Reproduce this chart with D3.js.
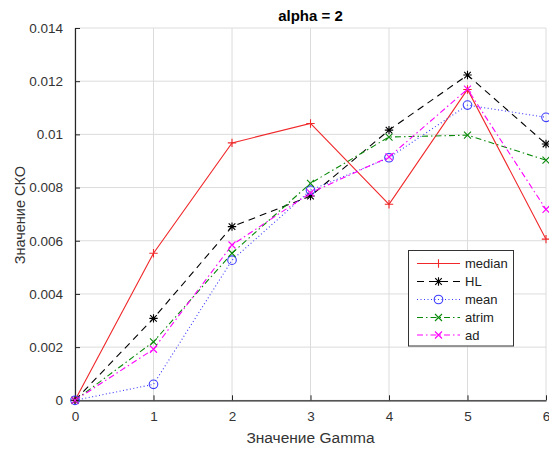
<!DOCTYPE html>
<html><head><meta charset="utf-8">
<script src="https://cdn.jsdelivr.net/npm/d3@7"></script>
<style>body{margin:0;background:#fff}svg{display:block}text{font-family:"Liberation Sans",Arial,sans-serif}</style>
</head><body><svg id="c" width="549" height="449"></svg>
<script>
const gammaValues = [0, 1, 2, 3, 4, 5, 6];
const median = [0, 0.00553, 0.00968, 0.01041, 0.00737, 0.01169, 0.00606];
const hl     = [0, 0.00308, 0.00653, 0.00768, 0.01016, 0.01223, 0.00964];
const mean   = [0, 0.00060, 0.00527, 0.00790, 0.00912, 0.01110, 0.01064];
const atrim  = [0, 0.00220, 0.00553, 0.00816, 0.00990, 0.00997, 0.00903];
const ad     = [0, 0.00192, 0.00584, 0.00780, 0.00915, 0.01170, 0.00718];
const seriesNames = ["median", "HL", "mean", "atrim", "ad"];
const yTicks = [0, 0.002, 0.004, 0.006, 0.008, 0.01, 0.012, 0.014];
const yTickLabels = ["0", "0.002", "0.004", "0.006", "0.008", "0.01", "0.012", "0.014"];
const xTicks = [0, 1, 2, 3, 4, 5, 6];
const titleText = "alpha = 2";
const xLabel = "Значение Gamma";
const yLabel = "Значение СКО";

const styles = [
  {color:"#f0282a", dash:null, marker:"plus"},
  {color:"#000000", dash:"7,5", marker:"star"},
  {color:"#3a3aff", dash:"1,2.5", marker:"circle"},
  {color:"#0a8a0a", dash:"6,3,1.5,3", marker:"x"},
  {color:"#ff00ff", dash:"6,3,1.5,3", marker:"x"}
];
const allSeries = [median, hl, mean, atrim, ad];

const svg = d3.select("#c");
const L = 75, R = 546, T = 28, B = 400.3;
const x = d3.scaleLinear().domain([0, 6]).range([L, R]);
const y = d3.scaleLinear().domain([0, 0.014]).range([B, T]);

// grid
const g = svg.append("g");
g.selectAll(".gx").data(xTicks).join("line")
  .attr("x1", d => x(d)).attr("x2", d => x(d)).attr("y1", T).attr("y2", B)
  .attr("stroke", "#dcdcdc").attr("stroke-width", 1);
g.selectAll(".gy").data(yTicks).join("line")
  .attr("x1", L).attr("x2", R).attr("y1", d => y(d)).attr("y2", d => y(d))
  .attr("stroke", "#dcdcdc").attr("stroke-width", 1);

// axes
const xAxis = d3.axisBottom(x).tickValues(xTicks).tickSizeInner(-5).tickSizeOuter(0).tickPadding(11).tickFormat(d3.format("d"));
const yAxis = d3.axisLeft(y).tickValues(yTicks).tickSizeInner(-5).tickSizeOuter(0).tickPadding(12).tickFormat((d, i) => yTickLabels[i]);
const ax = svg.append("g").attr("transform", `translate(0,${B})`).call(xAxis);
const ay = svg.append("g").attr("transform", `translate(${L},0)`).call(yAxis);
[ax, ay].forEach(a => {
  a.select(".domain").attr("stroke", "#262626").attr("stroke-width", 1.2);
  a.selectAll(".tick line").attr("stroke", "#262626");
  a.selectAll("text").attr("fill", "#333").style("font-size", "13.5px").style("font-family", '"Liberation Sans",Arial,sans-serif');
});

// markers
function drawMarker(sel, type, color, px, py) {
  const s = 4.2;
  if (type === "plus") {
    sel.append("path").attr("d", `M${px-s},${py}H${px+s}M${px},${py-s}V${py+s}`).attr("stroke", color).attr("stroke-width", 1.1).attr("fill", "none");
  } else if (type === "x") {
    const t = 3.5;
    sel.append("path").attr("d", `M${px-t},${py-t}L${px+t},${py+t}M${px-t},${py+t}L${px+t},${py-t}`).attr("stroke", color).attr("stroke-width", 1.1).attr("fill", "none");
  } else if (type === "star") {
    const t = 3.3;
    sel.append("path").attr("d", `M${px-s},${py}H${px+s}M${px},${py-s}V${py+s}M${px-t},${py-t}L${px+t},${py+t}M${px-t},${py+t}L${px+t},${py-t}`).attr("stroke", color).attr("stroke-width", 1.1).attr("fill", "none");
  } else if (type === "circle") {
    sel.append("circle").attr("cx", px).attr("cy", py).attr("r", 4.3).attr("stroke", color).attr("stroke-width", 1.1).attr("fill", "none");
  }
}

const line = d3.line().x((d, i) => x(gammaValues[i])).y(d => y(d));
const plot = svg.append("g");
allSeries.forEach((vals, k) => {
  const st = styles[k];
  plot.append("path").datum(vals).attr("d", line)
    .attr("fill", "none").attr("stroke", st.color).attr("stroke-width", 1.1)
    .attr("stroke-dasharray", st.dash);
});
allSeries.forEach((vals, k) => {
  const st = styles[k];
  const mg = plot.append("g");
  vals.forEach((v, i) => drawMarker(mg, st.marker, st.color, x(gammaValues[i]), y(v)));
});

// title and labels
svg.append("text").attr("x", x(3)).attr("y", 20.5).attr("text-anchor", "middle")
  .style("font-size", "15px").style("font-weight", "bold").attr("fill", "#000").text(titleText);
svg.append("text").attr("x", x(3)).attr("y", 443).attr("text-anchor", "middle")
  .style("font-size", "15.5px").attr("fill", "#333").text(xLabel);
svg.append("text").attr("transform", `translate(25,${(T + B) / 2 + 1}) rotate(-90)`).attr("text-anchor", "middle")
  .style("font-size", "14.5px").attr("fill", "#333").text(yLabel);

// legend
const lg = svg.append("g");
lg.append("rect").attr("x", 408.5).attr("y", 250.5).attr("width", 105).attr("height", 95.5)
  .attr("fill", "#fff").attr("stroke", "#333").attr("stroke-width", 1);
const rowY = [263.5, 281.5, 299.5, 317.5, 335];
seriesNames.forEach((name, k) => {
  const st = styles[k];
  const yy = rowY[k];
  lg.append("line").attr("x1", 417).attr("x2", 460).attr("y1", yy).attr("y2", yy)
    .attr("stroke", st.color).attr("stroke-width", 1.1).attr("stroke-dasharray", st.dash);
  drawMarker(lg, st.marker, st.color, 438.5, yy);
  lg.append("text").attr("x", 465).attr("y", yy + 4.5).style("font-size", "13px").attr("fill", "#222").text(name);
});
</script></body></html>
